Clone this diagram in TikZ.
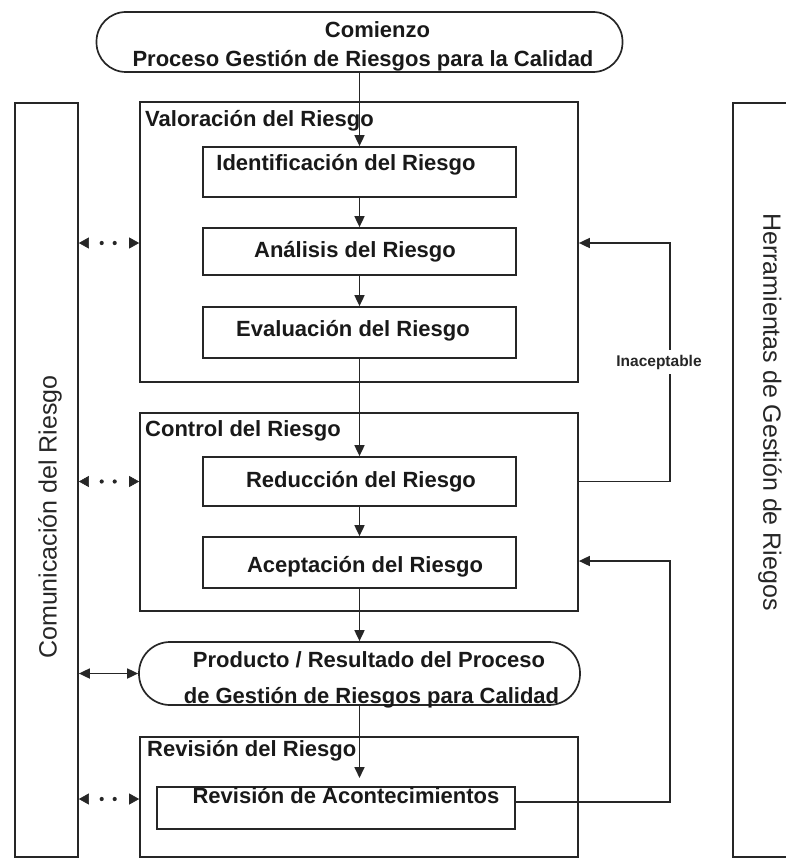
\documentclass[tikz,border=0pt]{standalone}
\usepackage{fontspec}
\setmainfont{Liberation Sans}
\usetikzlibrary{arrows.meta,calc}
\begin{document}
\begin{tikzpicture}[x=1pt,y=-1pt,
  line/.style={draw=black!85, line width=1.7pt},
  box/.style={line, rectangle, inner sep=0pt, fill=none},
  lbl/.style={text=black!90, font=\bfseries\fontsize{22}{26}\selectfont, inner sep=0pt},
  side/.style={text=black!85, font=\fontsize{25}{30}\selectfont, inner sep=0pt},
  small/.style={text=black!85, font=\bfseries\fontsize{15.5}{18}\selectfont, fill=white, inner xsep=1pt, inner ysep=5pt},
  arr/.style={line, -{Triangle[length=11pt,width=10pt]}},
  dblarr/.style={line, {Triangle[length=11pt,width=10pt]}-{Triangle[length=11pt,width=10pt]}},
  dotarr/.style={draw=black!85, line width=4.2pt, line cap=round,
    dash pattern=on 0pt off 13pt on 0pt off 100pt, dash phase=100pt,
    {Triangle[length=10pt,width=11pt,line width=0.6pt]}-{Triangle[length=10pt,width=11pt,line width=0.6pt]}}
]
\useasboundingbox (0,0) rectangle (786,859);
\clip (0,0) rectangle (786,859);

% side boxes
\node[box, minimum width=63pt, minimum height=754pt] (comm) at (46.5,480) {};
\node[box, minimum width=77pt, minimum height=754pt] (tools) at (771.5,480) {};
\node[side, rotate=90] (commtxt) at (50,517) {Comunicación del Riesgo};
\node[side, rotate=-90] (tooltxt) at (770,412) {Herramientas de Gestión de Riegos};

% start pill
\node[box, minimum width=526pt, minimum height=60pt, rounded corners=29.5pt,
  label={[lbl, xshift=18pt, yshift=12pt]center:Comienzo},
  label={[lbl, xshift=3.5pt, yshift=-19pt]center:Proceso Gestión de Riesgos para la Calidad}] (start) at (359.5,42) {};

% group boxes
\node[box, minimum width=438pt, minimum height=280pt] (val) at (359,242) {};
\node[box, minimum width=438pt, minimum height=198pt] (ctrl) at (359,512) {};
\node[box, minimum width=438pt, minimum height=120pt] (rev) at (359,797) {};
\node[lbl, anchor=west] (valtxt) at (145,120.5) {Valoración del Riesgo};
\node[lbl, anchor=west] (ctrltxt) at (145,431) {Control del Riesgo};
\node[lbl, anchor=west] (revtxt) at (147,751) {Revisión del Riesgo};

% step boxes
\node[box, minimum width=313pt, minimum height=50pt,
  label={[lbl, xshift=-13.5pt, yshift=7.5pt]center:Identificación del Riesgo}] (ident) at (359.5,172) {};
\node[box, minimum width=313pt, minimum height=47pt,
  label={[lbl, xshift=-4.5pt]center:Análisis del Riesgo}] (anal) at (359.5,251.5) {};
\node[box, minimum width=313pt, minimum height=51pt,
  label={[lbl, xshift=-6.5pt, yshift=1.5pt]center:Evaluación del Riesgo}] (eval) at (359.5,332.5) {};
\node[box, minimum width=313pt, minimum height=49pt,
  label={[lbl, xshift=1.5pt, yshift=-0.5pt]center:Reducción del Riesgo}] (red) at (359.5,481.5) {};
\node[box, minimum width=313pt, minimum height=51pt,
  label={[lbl, xshift=5.5pt, yshift=-4.5pt]center:Aceptación del Riesgo}] (acep) at (359.5,562.5) {};
\node[box, minimum width=441pt, minimum height=63pt, rounded corners=31pt,
  label={[lbl, xshift=9.5pt, yshift=14pt]center:Producto / Resultado del Proceso},
  label={[lbl, xshift=12pt, yshift=-24pt]center:de Gestión de Riesgos para Calidad}] (prod) at (359.5,673.5) {};
\node[box, minimum width=358pt, minimum height=42pt,
  label={[lbl, xshift=10pt, yshift=12pt]center:Revisión de Acontecimientos}] (revac) at (336,808) {};

% main flow
\coordinate (revin) at (359.5,778);
\draw[arr] (start.south) -- (ident.north);
\draw[arr] (ident.south) -- (anal.north);
\draw[arr] (anal.south) -- (eval.north);
\draw[arr] (eval.south) -- (red.north);
\draw[arr] (red.south) -- (acep.north);
\draw[arr] (acep.south) -- (prod.north);
\draw[arr] (prod.south) -- (revin);

% feedback loops
\coordinate (fbtop) at (670,243);
\coordinate (fbbot) at (670,561);
\draw[arr] (red.east -| ctrl.east) -| (fbtop) -- (fbtop -| val.east);
\node[small] (inac) at (659,362) {Inaceptable};
\draw[arr] ($(revac.east)+(0,-6)$) -| (fbbot) -- (fbbot -| ctrl.east);

% communication arrows
\coordinate (d1) at (0,243);
\coordinate (d3) at (0,799);
\draw[dotarr] (comm.east |- d1) -- (val.west |- d1);
\draw[dotarr] (comm.east |- red.center) -- (ctrl.west |- red.center);
\draw[dblarr] (comm.east |- prod.west) -- (prod.west);
\draw[dotarr] (comm.east |- d3) -- (rev.west |- d3);
\end{tikzpicture}
\end{document}
